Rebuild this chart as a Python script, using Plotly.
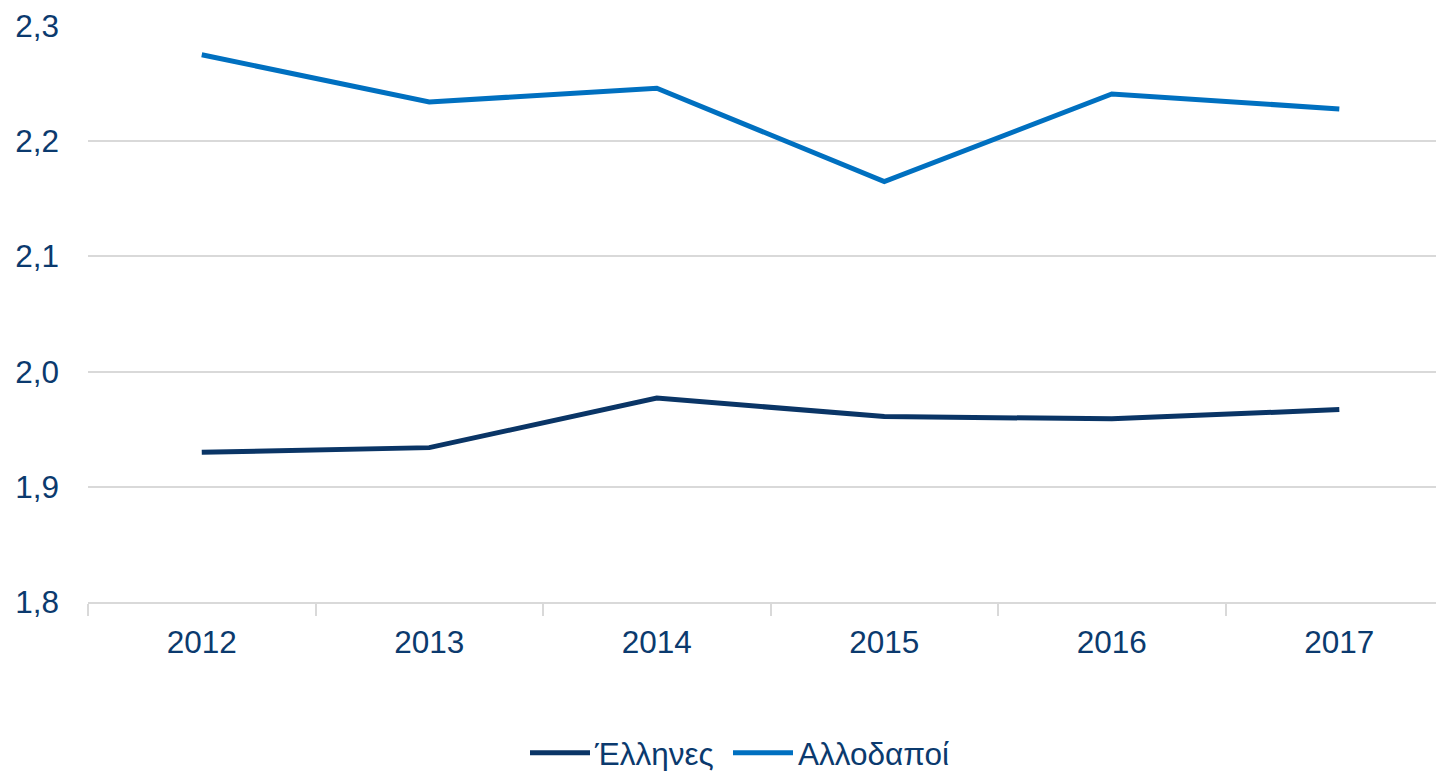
import plotly.graph_objects as go

years = ["2012", "2013", "2014", "2015", "2016", "2017"]
ellines = [1.930, 1.934, 1.977, 1.961, 1.959, 1.967]
allodapoi = [2.275, 2.234, 2.246, 2.165, 2.241, 2.228]

text_color = "#0B3A6E"
font_family = "Liberation Sans, Arial, sans-serif"
fsize = 31.5

fig = go.Figure()
fig.add_trace(go.Scatter(x=years, y=ellines, mode="lines", name="Έλληνες",
                         line=dict(color="#0A3566", width=5), legend="legend"))
fig.add_trace(go.Scatter(x=years, y=allodapoi, mode="lines", name="Αλλοδαποί",
                         line=dict(color="#0070C0", width=5), legend="legend2"))

legend_common = dict(orientation="h", xanchor="left", xref="container",
                     y=0.0236, yanchor="middle", yref="container",
                     font=dict(size=fsize, color=text_color), itemwidth=60,
                     bgcolor="rgba(0,0,0,0)")

fig.update_layout(
    width=1436, height=771,
    margin=dict(l=88, r=0, t=26, b=169),
    paper_bgcolor="white", plot_bgcolor="white",
    separators=",.",
    font=dict(family=font_family, size=fsize, color=text_color),
    showlegend=True,
    legend=dict(x=525 / 1436, **legend_common),
    legend2=dict(x=728 / 1436, **legend_common),
    xaxis=dict(type="category", range=[-0.5, 5.425], showgrid=False,
               showline=True, linecolor="#D9D9D9", linewidth=2,
               ticks="outside", tickson="boundaries", ticklen=12, tickwidth=2,
               tickcolor="#D9D9D9", tickfont=dict(size=fsize, color=text_color),
               ticklabelstandoff=11, zeroline=False),
    yaxis=dict(range=[1.8, 2.3], dtick=0.1, tick0=1.8, tickformat=".1f",
               showgrid=True, gridcolor="#D9D9D9", gridwidth=2,
               showline=False, zeroline=False, ticks="",
               tickfont=dict(size=fsize, color=text_color), ticklabelstandoff=28),
)

fig.write_html("out.html", config={"displayModeBar": False},
               post_script="document.body.style.margin='0';document.body.style.overflow='hidden';")
